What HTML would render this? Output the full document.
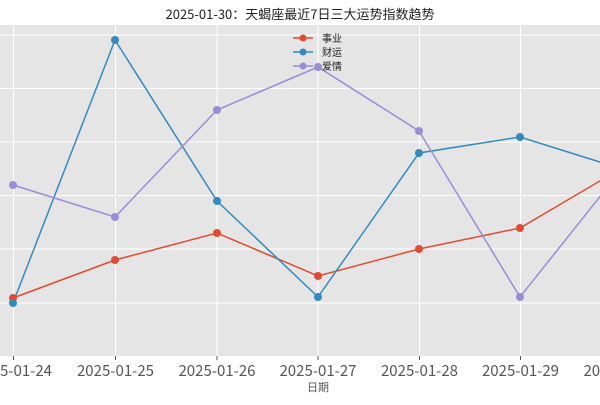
<!DOCTYPE html>
<html><head><meta charset="utf-8"><style>
body{margin:0;background:#fff;width:600px;height:400px;overflow:hidden}
</style></head><body>
<svg width="600" height="400" xmlns="http://www.w3.org/2000/svg" font-family="'Noto Sans CJK SC',sans-serif">
<rect x="0" y="25" width="600" height="331" fill="#E5E5E5"/>
<g stroke="#fff" stroke-width="1">
<line x1="0" x2="600" y1="35" y2="35"/><line x1="0" x2="600" y1="88.5" y2="88.5"/>
<line x1="0" x2="600" y1="142" y2="142"/><line x1="0" x2="600" y1="195.5" y2="195.5"/>
<line x1="0" x2="600" y1="249" y2="249"/><line x1="0" x2="600" y1="303" y2="303"/>
<line y1="25" y2="356" x1="13.5" x2="13.5"/><line y1="25" y2="356" x1="115.5" x2="115.5"/>
<line y1="25" y2="356" x1="217" x2="217"/><line y1="25" y2="356" x1="318" x2="318"/>
<line y1="25" y2="356" x1="419.5" x2="419.5"/><line y1="25" y2="356" x1="520.5" x2="520.5"/>
</g>
<g stroke="#555" stroke-width="1">
<line y1="356" y2="360" x1="13.5" x2="13.5"/><line y1="356" y2="360" x1="115.5" x2="115.5"/>
<line y1="356" y2="360" x1="217" x2="217"/><line y1="356" y2="360" x1="318" x2="318"/>
<line y1="356" y2="360" x1="419.5" x2="419.5"/><line y1="356" y2="360" x1="520.5" x2="520.5"/>
</g>
<g fill="none" stroke-width="1.5">
<polyline stroke="#E24A33" points="13,298 115,260 217,233 318,276 419,249 520,228 622,168"/>
<polyline stroke="#348ABD" points="13,303 115,40 217,201 318,297 419,153 520,137 622,169"/>
<polyline stroke="#988ED5" points="13,185 115,217 217,110 318,67 419,131 520,297 622,169"/>
</g>
<g fill="#E24A33"><circle cx="13" cy="298" r="4"/><circle cx="115" cy="260" r="4"/><circle cx="217" cy="233" r="4"/><circle cx="318" cy="276" r="4"/><circle cx="419" cy="249" r="4"/><circle cx="520" cy="228" r="4"/></g>
<g fill="#348ABD"><circle cx="13" cy="303" r="4"/><circle cx="115" cy="40" r="4"/><circle cx="217" cy="201" r="4"/><circle cx="318" cy="297" r="4"/><circle cx="419" cy="153" r="4"/><circle cx="520" cy="137" r="4"/></g>
<g fill="#988ED5"><circle cx="13" cy="185" r="4"/><circle cx="115" cy="217" r="4"/><circle cx="217" cy="110" r="4"/><circle cx="318" cy="67" r="4"/><circle cx="419" cy="131" r="4"/><circle cx="520" cy="297" r="4"/></g>
<g stroke-width="1.5">
<line x1="293" x2="313" y1="38" y2="38" stroke="#E24A33"/><circle cx="303" cy="38" r="3.5" fill="#E24A33"/>
<line x1="293" x2="313" y1="52" y2="52" stroke="#348ABD"/><circle cx="303" cy="52" r="3.5" fill="#348ABD"/>
<line x1="293" x2="313" y1="66" y2="66" stroke="#988ED5"/><circle cx="303" cy="66" r="3.5" fill="#988ED5"/>
</g>
<g font-size="10" fill="#222"><text x="322" y="42">事业</text><text x="322" y="56">财运</text><text x="322" y="70">爱情</text></g>
<text x="300" y="19" text-anchor="middle" font-size="13" fill="#222">2025-01-30：天蝎座最近7日三大运势指数趋势</text>
<g font-size="15" fill="#555" text-anchor="middle">
<text x="13.5" y="376">2025-01-24</text><text x="115.5" y="376">2025-01-25</text><text x="217" y="376">2025-01-26</text>
<text x="318" y="376">2025-01-27</text><text x="419.5" y="376">2025-01-28</text><text x="520.5" y="376">2025-01-29</text><text x="622" y="376">2025-01-30</text>
</g>
<text x="318" y="391" text-anchor="middle" font-size="11" fill="#555">日期</text>
</svg>
</body></html>
